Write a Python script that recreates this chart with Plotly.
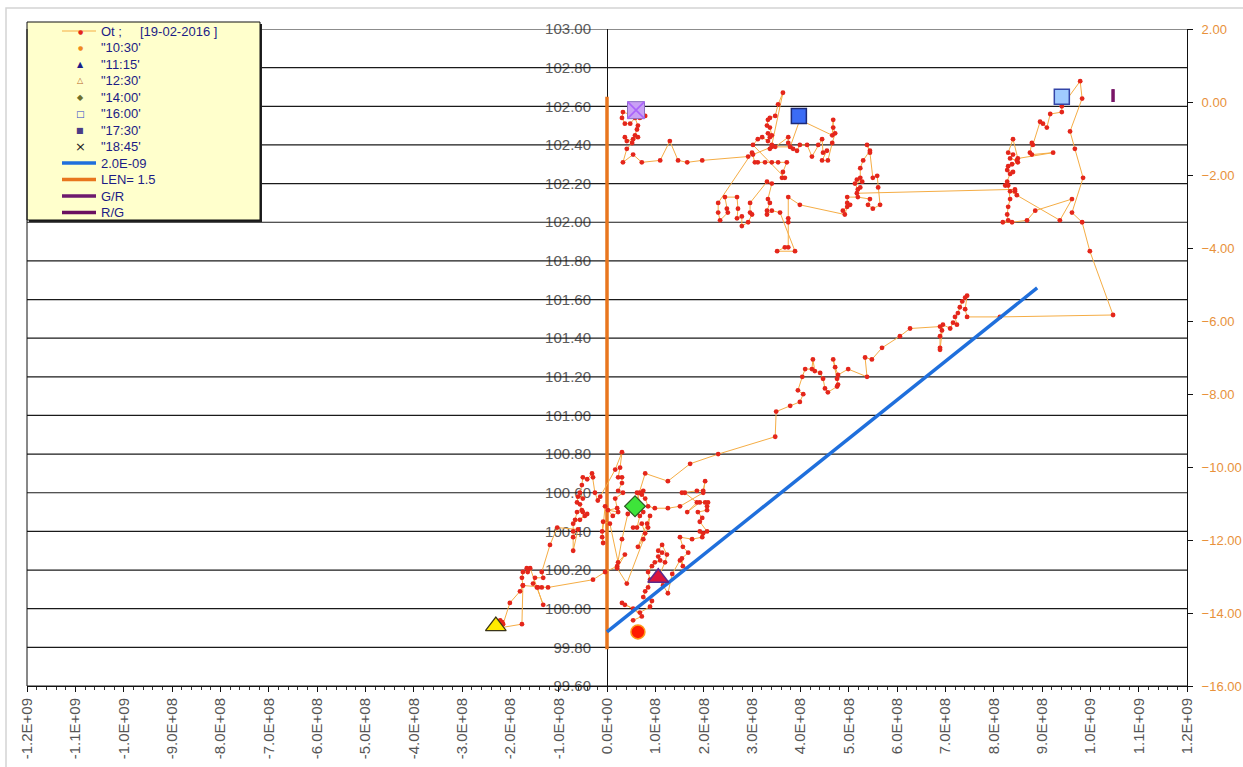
import plotly.graph_objects as go

# ---------------------------------------------------------------
# Ot trajectory, 19-02-2016  (x in units of 1E+08, y = level)
# ---------------------------------------------------------------
ot_x_e8 = [
    0.54, 0.72, 0.54, 0.37, 0.31, 0.68, 0.89, 0.93, 0.75, 0.79, 0.85, 0.89, 0.85, 0.93,
    0.99, 1.10, 1.06, 1.14, 1.06, 1.14, 1.24, 1.20, 1.06, 1.16, 1.26, 1.35,
    1.51, 1.57, 1.55, 1.68, 1.57, 1.51, 1.76, 1.97, 1.92, 1.99, 2.07, 1.92, 1.97, 1.88,
    2.07, 2.07, 2.03, 2.09, 1.92, 1.66, 1.86, 1.61, 1.55, 1.86, 1.99, 2.03, 1.99, 1.51,
    1.26, 0.99,
    0.85, 0.79, 0.72, 0.75, 0.68, 0.62, 0.75, 0.68, 0.62, 0.54, 0.72, 0.79, 0.75, 0.64,
    0.83, 0.89, 0.85, 0.41, 0.21, 0.37, 0.23, 0.06, -0.08, -0.10, -0.08, -0.10, -0.04,
    0.12, 0.23, 0.02, 0.21, 0.17, 0.33, 0.23, 0.31, 0.31, 0.23, 0.27, 0.31, 0.17,
    -0.14, -0.19, -0.25, -0.29, -0.31, -0.41, -0.50, -0.52, -0.56, -0.50, -0.60, -0.62,
    -0.56, -0.52, -0.50, -0.62, -0.66, -0.56, -0.46, -0.41, -0.70, -0.70, -0.70, -0.70,
    -0.60, -1.03, -1.18, -1.35, -1.32, -1.49, -1.53, -1.43, -1.35, -1.45, -1.32, -1.59,
    -1.66, -1.64, -1.74, -1.76, -1.74, -1.80, -2.01, -2.15, -2.21, -2.17, -2.24, -1.76,
    -1.74, -1.22, -0.29, -0.04, 0.21, 0.31, 0.43, 0.58, 0.79, 1.26, 1.72, 2.30, 3.48, 3.50,
    3.79, 3.99, 4.06, 3.95, 4.04, 4.10, 4.24, 4.26, 4.30, 4.41, 4.47, 4.51, 4.57, 4.76,
    4.78, 4.76, 4.68, 4.72, 4.78, 4.99, 5.38, 5.34, 5.48, 5.69, 6.06, 6.27, 6.89, 6.93,
    6.89, 6.89, 6.89, 6.95, 7.10, 7.16, 7.24, 7.20, 7.26, 7.30, 7.35, 7.41, 7.45, 7.41,
    7.45, 8.13, 10.47,
    9.99, 9.83, 9.62, 9.85, 9.68, 9.58, 9.83, 9.79, 9.41, 9.41, 9.17, 9.10, 9.02, 8.96,
    8.81, 8.79, 8.75, 8.79, 9.23, 8.50, 8.40, 8.30, 8.40, 8.34, 8.48, 8.50, 8.38, 8.30,
    8.28, 8.40, 8.34, 8.28, 8.24, 8.30, 8.34, 8.30, 8.28, 8.30, 8.19, 8.38, 8.69, 8.86,
    9.62, 9.37, 8.34, 8.44, 8.48, 8.44,
    5.17, 5.24, 5.19, 5.13, 5.28, 5.17, 5.24, 5.24, 5.30, 5.44, 5.38, 5.44, 5.50, 5.59,
    5.61, 5.65, 5.50, 5.40, 5.44, 5.19, 4.97, 4.97, 5.03, 4.88, 4.97, 4.92, 3.99,
    3.75, 3.75, 3.75, 3.75, 3.68, 3.52, 3.89, 3.58, 3.41, 3.31, 3.31, 3.37, 3.33, 3.41,
    3.31, 2.96, 2.96, 3.00, 2.92, 2.79, 2.79, 2.69, 2.71, 2.69, 2.44, 2.48, 2.50, 2.34,
    2.30, 2.30,
    3.00, 3.06, 3.12, 3.27, 3.41, 3.54, 3.72, 3.64, 3.62, 3.68, 3.02, 3.12, 3.21, 3.33,
    3.37, 3.33, 3.41, 3.37, 3.31, 3.33, 3.37, 3.48, 3.54, 3.64, 3.41, 3.37, 3.48, 3.75,
    3.75, 3.79, 3.85, 3.93, 3.99, 4.14, 4.24, 4.37, 4.45, 4.47, 4.55, 4.45, 4.57, 4.66,
    4.72, 4.68, 4.68, 4.66, 3.99, 3.79, 3.41, 3.02, 2.92, 1.97,
    1.66, 1.47, 1.30, 1.10, 0.72, 0.54, 0.33, 0.41, 0.52, 0.37, 0.41, 0.54, 0.64, 0.58,
    0.62, 0.64, 0.58, 0.48, 0.37, 0.31, 0.33, 0.68, 0.79, 0.60,
]
ot_y = [
    99.94, 99.96, 100.00, 100.02, 100.03, 99.98, 100.01, 100.04, 100.06, 100.09, 100.11,
    100.15, 100.19, 100.22, 100.24, 100.25, 100.27, 100.29, 100.30, 100.33, 100.28, 100.24,
    100.16, 100.12, 100.08, 100.18,
    100.25, 100.22, 100.26, 100.29, 100.32, 100.37, 100.36, 100.37, 100.40, 100.39, 100.40,
    100.45, 100.47, 100.50, 100.51, 100.53, 100.55, 100.55, 100.55, 100.50, 100.55, 100.60,
    100.60, 100.61, 100.61, 100.66, 100.60, 100.53, 100.52, 100.52,
    100.53, 100.57, 100.59, 100.61, 100.60, 100.60, 100.50, 100.48, 100.42, 100.42, 100.44,
    100.39, 100.36, 100.32, 100.44, 100.48, 100.42, 100.13, 100.21, 100.28, 100.24, 100.44,
    100.45, 100.40, 100.34, 100.37, 100.53, 100.48, 100.50, 100.51, 100.52, 100.57, 100.60,
    100.61, 100.65, 100.68, 100.68, 100.73, 100.81, 100.72,
    100.58, 100.56, 100.60, 100.68, 100.70, 100.67, 100.68, 100.64, 100.60, 100.57, 100.58,
    100.55, 100.54, 100.51, 100.50, 100.50, 100.46, 100.46, 100.48, 100.49, 100.44, 100.40,
    100.37, 100.30, 100.41, 100.42, 100.33, 100.19, 100.16, 100.16, 100.13, 100.11, 100.11,
    100.11, 100.02, 100.21, 100.21, 100.19, 100.19, 100.16, 100.12, 100.09, 100.03, 99.92,
    99.94, 99.93, 99.90, 99.92, 100.12, 100.11, 100.15, 100.19, 100.22, 100.36, 100.49,
    100.53, 100.70, 100.66, 100.75, 100.80, 100.89, 101.02,
    101.05, 101.07, 101.11, 101.13, 101.20, 101.24, 101.24, 101.29, 101.23, 101.22, 101.19,
    101.14, 101.12, 101.15, 101.16, 101.19, 101.29, 101.25, 101.21, 101.24, 101.20, 101.30,
    101.29, 101.35, 101.41, 101.45, 101.46, 101.44, 101.41, 101.35, 101.34, 101.47, 101.45,
    101.48, 101.47, 101.51, 101.53, 101.56, 101.59, 101.61, 101.62, 101.55, 101.51, 101.51,
    101.52,
    101.85, 102.00, 102.05, 102.23, 102.38, 102.47, 102.64, 102.73, 102.60, 102.57, 102.56,
    102.49, 102.51, 102.52, 102.40, 102.41, 102.36, 102.35, 102.36, 102.33, 102.43, 102.36,
    102.35, 102.33, 102.32, 102.31, 102.30, 102.29, 102.27, 102.26, 102.25, 102.21, 102.19,
    102.19, 102.12, 102.08, 102.04, 102.01, 102.00, 102.00, 102.01, 102.06, 102.12, 102.01,
    102.16, 102.16, 102.14, 102.17,
    102.15, 102.18, 102.17, 102.20, 102.21, 102.22, 102.23, 102.28, 102.32, 102.37, 102.40,
    102.36, 102.23, 102.24, 102.18, 102.09, 102.07, 102.09, 102.12, 102.13, 102.13, 102.10,
    102.09, 102.06, 102.08, 102.04, 102.09,
    102.13, 102.02, 102.00, 101.87, 101.87, 101.85, 101.85, 102.05, 102.06, 102.04, 102.06,
    102.10, 102.12, 102.20, 102.21, 102.10, 102.05, 102.04, 102.00, 101.98, 102.03, 102.02,
    102.07, 102.13, 102.13, 102.07, 102.05, 102.01, 102.05, 102.10,
    102.36, 102.31, 102.31, 102.31, 102.31, 102.31, 102.31, 102.26, 102.23, 102.23, 102.40,
    102.43, 102.44, 102.42, 102.44, 102.46, 102.45, 102.49, 102.50, 102.53, 102.54, 102.55,
    102.61, 102.67, 102.40, 102.38, 102.39, 102.44, 102.41, 102.39, 102.38, 102.37, 102.40,
    102.40, 102.34, 102.40, 102.43, 102.36, 102.37, 102.32, 102.32, 102.41, 102.46, 102.49,
    102.53, 102.45, 102.53, 102.39, 102.39, 102.35, 102.34, 102.32,
    102.31, 102.32, 102.42, 102.32, 102.31, 102.35, 102.31, 102.38, 102.41, 102.44, 102.42,
    102.43, 102.44, 102.45, 102.48, 102.50, 102.54, 102.51, 102.51, 102.54, 102.57, 102.54,
    102.55, 102.57,
]
E8 = 1e8

# time stamps along the trajectory
mark_labels = ['"10:30\'', '"11:15\'', '"12:30\'', '"14:00\'', '"16:00\'', '"17:30\'', '"18:45\'']
mark_x_e8 = [0.64, 1.06, -2.30, 0.58, 9.41, 3.97, 0.60]
mark_y = [99.88, 100.16, 99.91, 100.53, 102.65, 102.55, 102.58]

# straight reference with slope 2.0E-09
slope = 2.0e-9
slope_x = [0.0, 8.9e8]
slope_y0 = 99.88
slope_y = [slope_y0 + slope * v for v in slope_x]

# LEN = 1.5 marker line on the zero crossing
len_x = [0.0, 0.0]
len_y = [99.79, 102.65]

# G/R and R/G markers (right axis)
gr_x = [10.47e8, 10.47e8]
gr_y2 = [0.0, 0.35]
rg_x = [10.47e8, 10.47e8]
rg_y2 = [0.0, 0.35]

# axes
x_tick_vals = [-1.2e9, -1.1e9, -1.0e9, -9e8, -8e8, -7e8, -6e8, -5e8, -4e8, -3e8, -2e8, -1e8, 0.0,
               1e8, 2e8, 3e8, 4e8, 5e8, 6e8, 7e8, 8e8, 9e8, 1.0e9, 1.1e9, 1.2e9]
x_tick_labels = ["-1.2E+09", "-1.1E+09", "-1.0E+09", "-9.0E+08", "-8.0E+08", "-7.0E+08",
                 "-6.0E+08", "-5.0E+08", "-4.0E+08", "-3.0E+08", "-2.0E+08", "-1.0E+08",
                 "0.0E+00", "1.0E+08", "2.0E+08", "3.0E+08", "4.0E+08", "5.0E+08", "6.0E+08",
                 "7.0E+08", "8.0E+08", "9.0E+08", "1.0E+09", "1.1E+09", "1.2E+09"]
y_ticks = [99.6, 99.8, 100.0, 100.2, 100.4, 100.6, 100.8, 101.0, 101.2, 101.4, 101.6,
           101.8, 102.0, 102.2, 102.4, 102.6, 102.8, 103.0]
y2_ticks = [-16, -14, -12, -10, -8, -6, -4, -2, 0, 2]

legend_labels = ["Ot ;\u00a0\u00a0\u00a0\u00a0\u00a0[19-02-2016 ]"] + mark_labels + \
                ["2.0E-09", "LEN= 1.5", "G/R", "R/G"]

FONT = "Liberation Sans, Arial, sans-serif"
W, H = 1243, 767
ML, MR, MT, MB = 27, 56, 29, 81
PW, PH = W - ML - MR, H - MT - MB

fig = go.Figure()

# horizontal grid drawn as a trace so it runs across the inner axis labels
gx, gy = [], []
for t in y_ticks:
    gx += [x_tick_vals[0], x_tick_vals[-1], None]
    gy += [t, t, None]
fig.add_trace(go.Scatter(x=gx, y=gy, mode="lines", line=dict(color="#1a1a1a", width=1.2),
                         hoverinfo="skip", showlegend=False))

fig.add_trace(go.Scatter(x=len_x, y=len_y, mode="lines", name="LEN= 1.5",
                         line=dict(color="#e8761e", width=3.5), showlegend=False))

fig.add_trace(go.Scatter(x=[v * E8 for v in ot_x_e8], y=ot_y, mode="lines+markers",
                         name="Ot", line=dict(color="#f5ad45", width=1.0),
                         marker=dict(color="#e4261b", size=4.8), showlegend=False))

fig.add_trace(go.Scatter(x=slope_x, y=slope_y, mode="lines", name="2.0E-09",
                         line=dict(color="#1f6fdc", width=3.5), showlegend=False))

fig.add_trace(go.Scatter(x=gr_x, y=gr_y2, yaxis="y2", mode="lines", name="G/R",
                         line=dict(color="#6e1a6e", width=3), showlegend=False))
fig.add_trace(go.Scatter(x=rg_x, y=rg_y2, yaxis="y2", mode="lines", name="R/G",
                         line=dict(color="#7a1466", width=3), showlegend=False))

mark_styles = [
    dict(symbol="circle", size=14, color="#ff1a00", line=dict(color="#ff9a1a", width=1.5)),
    dict(symbol="triangle-up", size=18, color="#dc143c", line=dict(color="#5b2a8c", width=1.5)),
    dict(symbol="triangle-up", size=18, color="#ffea00", line=dict(color="#3a3418", width=1.2)),
    dict(symbol="diamond", size=16, color="#3ee43a", line=dict(color="#2a5a22", width=1.2)),
    dict(symbol="square", size=15, color="#9fcbff", line=dict(color="#3345a8", width=1.5)),
    dict(symbol="square", size=15, color="#3b6cf5", line=dict(color="#1c2a78", width=1.5)),
    dict(symbol="square", size=17, color="#c9a0f5", line=dict(color="#8a6fc0", width=1)),
]
for i, lab in enumerate(mark_labels):
    fig.add_trace(go.Scatter(x=[mark_x_e8[i] * E8], y=[mark_y[i]], mode="markers", name=lab,
                             marker=mark_styles[i], showlegend=False))
# cross over the last time stamp
fig.add_trace(go.Scatter(x=[mark_x_e8[-1] * E8], y=[mark_y[-1]], mode="markers",
                         marker=dict(symbol="x-thin-open", size=17,
                                     line=dict(color="#4b2a9c", width=1.6)),
                         hoverinfo="skip", showlegend=False))

# ---------------- legend box (drawn as shapes + text) ----------------
def px_x(p):
    return (p - ML) / PW

def px_y(p):
    return (H - MB - p) / PH

shapes = []
annotations = []

# light frame of the chart area
shapes.append(dict(type="rect", xref="paper", yref="paper", layer="below",
                   x0=px_x(6), x1=px_x(W + 5), y0=px_y(H + 5), y1=px_y(8),
                   line=dict(color="#d4d4d4", width=1.5)))

box = dict(x0=27, x1=260, y0=22, y1=220)
shapes.append(dict(type="rect", xref="paper", yref="paper", layer="above",
                   x0=px_x(box["x0"] + 2), x1=px_x(box["x1"] + 2),
                   y0=px_y(box["y1"] + 2), y1=px_y(box["y0"] + 2),
                   fillcolor="#202020", line=dict(width=0)))
shapes.append(dict(type="rect", xref="paper", yref="paper", layer="above",
                   x0=px_x(box["x0"]), x1=px_x(box["x1"]),
                   y0=px_y(box["y1"]), y1=px_y(box["y0"]),
                   fillcolor="#ffffcc", line=dict(color="#111111", width=1)))

row0, row_step = 31.0, 16.5
sample_x0, sample_x1, sym_x, text_x = 62, 96, 80, 99
line_rows = {0: ("#f5ad45", 1.2), 8: ("#1f6fdc", 3.5), 9: ("#e8761e", 3.5),
             10: ("#6e1a6e", 3.5), 11: ("#6a1060", 3.5)}
glyphs = {0: ("\u25cf", "#e4261b", 6), 1: ("\u25cf", "#f08a1c", 6),
          2: ("\u25b2", "#1c1c8a", 8), 3: ("\u25b3", "#b8641e", 8),
          4: ("\u25c6", "#6e6e2a", 8), 5: ("\u25a1", "#2a40c8", 9),
          6: ("\u25a0", "#4a3c86", 8), 7: ("\u00d7", "#202020", 13)}
for i, lab in enumerate(legend_labels):
    py = row0 + i * row_step
    if i in line_rows:
        col, wd = line_rows[i]
        shapes.append(dict(type="line", xref="paper", yref="paper", layer="above",
                           x0=px_x(sample_x0), x1=px_x(sample_x1), y0=px_y(py), y1=px_y(py),
                           line=dict(color=col, width=wd)))
    if i in glyphs:
        g, col, sz = glyphs[i]
        annotations.append(dict(xref="paper", yref="paper", x=px_x(sym_x), y=px_y(py),
                                text=g, showarrow=False, xanchor="center", yanchor="middle",
                                font=dict(family="DejaVu Sans", size=sz, color=col)))
    annotations.append(dict(xref="paper", yref="paper", x=px_x(text_x), y=px_y(py),
                            text=lab, showarrow=False, xanchor="left", yanchor="middle",
                            font=dict(family=FONT, size=13, color="#1c1c86")))

# left border of the plot area
shapes.append(dict(type="line", xref="paper", yref="paper", layer="above",
                   x0=0, x1=0, y0=0, y1=1, line=dict(color="#111111", width=1)))

fig.update_layout(
    width=W, height=H,
    margin=dict(l=ML, r=MR, t=MT, b=MB, autoexpand=False),
    paper_bgcolor="white", plot_bgcolor="white",
    showlegend=False,
    font=dict(family=FONT),
    xaxis=dict(range=[x_tick_vals[0], x_tick_vals[-1]], tickvals=x_tick_vals,
               ticktext=x_tick_labels, tickangle=-90, showgrid=False, zeroline=False,
               showline=True, linecolor="#111111", linewidth=1, automargin=False,
               ticks="outside", ticklen=5, tickcolor="#111111",
               minor=dict(dtick=2e7, ticks="outside", ticklen=3, tickcolor="#333333"),
               tickfont=dict(family=FONT, size=15, color="#555555")),
    yaxis=dict(range=[y_ticks[0], y_ticks[-1]], tickvals=y_ticks, tickformat=".2f",
               anchor="free", position=0.5, side="left", showgrid=False, zeroline=False,
               showline=True, linecolor="#111111", linewidth=1, ticks="", automargin=False,
               layer="below traces", ticklabelstandoff=13,
               tickfont=dict(family=FONT, size=15, color="#5c5c5c")),
    yaxis2=dict(range=[y2_ticks[0], y2_ticks[-1]], tickvals=y2_ticks, tickformat=".2f",
                overlaying="y", side="right", anchor="x", showgrid=False, zeroline=False,
                showline=True, linecolor="#111111", linewidth=1, automargin=False,
                ticks="outside", ticklen=5, tickcolor="#111111", ticklabelstandoff=6,
                tickfont=dict(family=FONT, size=13, color="#e8913a")),
    shapes=shapes,
    annotations=annotations,
)

fig.write_html("out.html")
